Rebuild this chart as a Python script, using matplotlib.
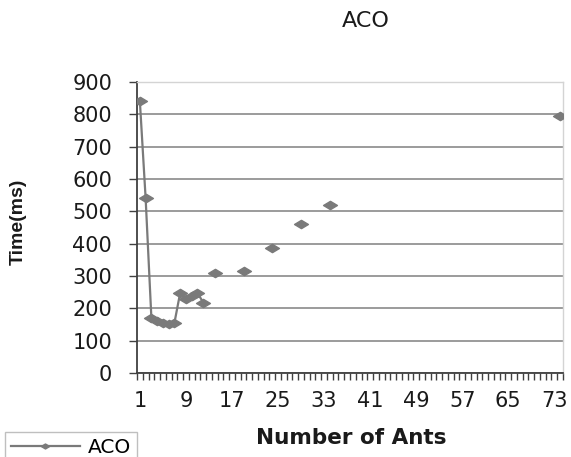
import numpy as np
import matplotlib
matplotlib.use("Agg")
import matplotlib.pyplot as plt
from matplotlib.path import Path

# ---- data ----
n_categories = 74
ants = [1, 2, 3, 4, 5, 6, 7, 8, 9, 10, 11, 12, 14, 19, 24, 29, 34, 74]
times = [840, 540, 170, 160, 155, 152, 155, 248, 230, 238, 248, 218, 310, 316, 388, 462, 520, 795]
xtick_labels = [1, 9, 17, 25, 33, 41, 49, 57, 65, 73]
yticks = [0, 100, 200, 300, 400, 500, 600, 700, 800, 900]
series_name = "ACO"

# full category series with gaps (Excel-style line with empty cells)
cats = np.arange(1, n_categories + 1)
vals = np.full(n_categories, np.nan)
for a, t in zip(ants, times):
    vals[a - 1] = t

W, H = 571, 457
fig = plt.figure(figsize=(W / 100, H / 100), dpi=100)
L, R, B, T = 137, 563, 373, 82
ax = fig.add_axes([L / W, 1 - B / H, (R - L) / W, (B - T) / H])

gray = "#7a7a7a"
diamond = Path([(-1, 0), (0, 0.6), (1, 0), (0, -0.6), (-1, 0)],
               [Path.MOVETO, Path.LINETO, Path.LINETO, Path.LINETO, Path.CLOSEPOLY])

ax.plot(cats, vals, color=gray, lw=1.6, marker=diamond, markersize=10,
        markerfacecolor=gray, markeredgecolor=gray, label=series_name, zorder=3)

ax.set_xlim(0.5, n_categories + 0.5)
ax.set_ylim(0, 900)

# gridlines
ax.set_yticks(yticks)
ax.yaxis.grid(True, color="#808080", lw=1.1)
ax.set_axisbelow(True)

# x ticks: labels on categories, tick marks between categories
ax.set_xticks(xtick_labels)
ax.set_xticklabels([str(v) for v in xtick_labels])
ax.set_xticks(np.arange(0.5, n_categories + 1, 1), minor=True)
ax.tick_params(axis="x", which="major", length=0, pad=13)
ax.tick_params(axis="x", which="minor", length=5, width=1, color="#404040", direction="out")
ax.tick_params(axis="y", which="major", length=6, width=1, color="#404040", pad=12)

for lab in ax.get_xticklabels() + ax.get_yticklabels():
    lab.set_fontfamily("DejaVu Sans")
    lab.set_fontsize(15)
    lab.set_color("#1a1a1a")

for s in ("left", "bottom"):
    ax.spines[s].set_color("#404040")
    ax.spines[s].set_linewidth(1.3)
for s in ("top", "right"):
    ax.spines[s].set_color("#d4d4d4")
    ax.spines[s].set_linewidth(1.0)

ax.set_title("ACO", fontsize=16, fontfamily="DejaVu Sans", color="#1a1a1a",
             x=(366 - L) / (R - L), y=(B - 21) / (B - T), va="center", pad=0)
ax.set_xlabel("Number of Ants", fontsize=15.5, fontweight="bold", fontfamily="DejaVu Sans",
              color="#1a1a1a")
ax.xaxis.set_label_coords((351 - L) / (R - L), (B - 438) / (B - T))
ax.xaxis.label.set_va("center")
ax.set_ylabel("Time(ms)", fontsize=14, fontweight="bold", fontfamily="Liberation Sans",
              color="#1a1a1a")
ax.yaxis.set_label_coords((18 - L) / (R - L), (B - 222) / (B - T))
ax.yaxis.label.set_va("center")

leg = ax.legend(loc="upper left", bbox_to_anchor=(5 / W, 1 - 432 / H),
                bbox_transform=fig.transFigure, frameon=True, fancybox=False,
                borderaxespad=0, handlelength=3.4, handletextpad=0.4,
                borderpad=0.3, prop={"family": "DejaVu Sans", "size": 14.5}, markerscale=0.6)
leg.get_frame().set_edgecolor("#b0b0b0")
leg.get_frame().set_linewidth(1.0)

fig.savefig("out.png", dpi=100)
